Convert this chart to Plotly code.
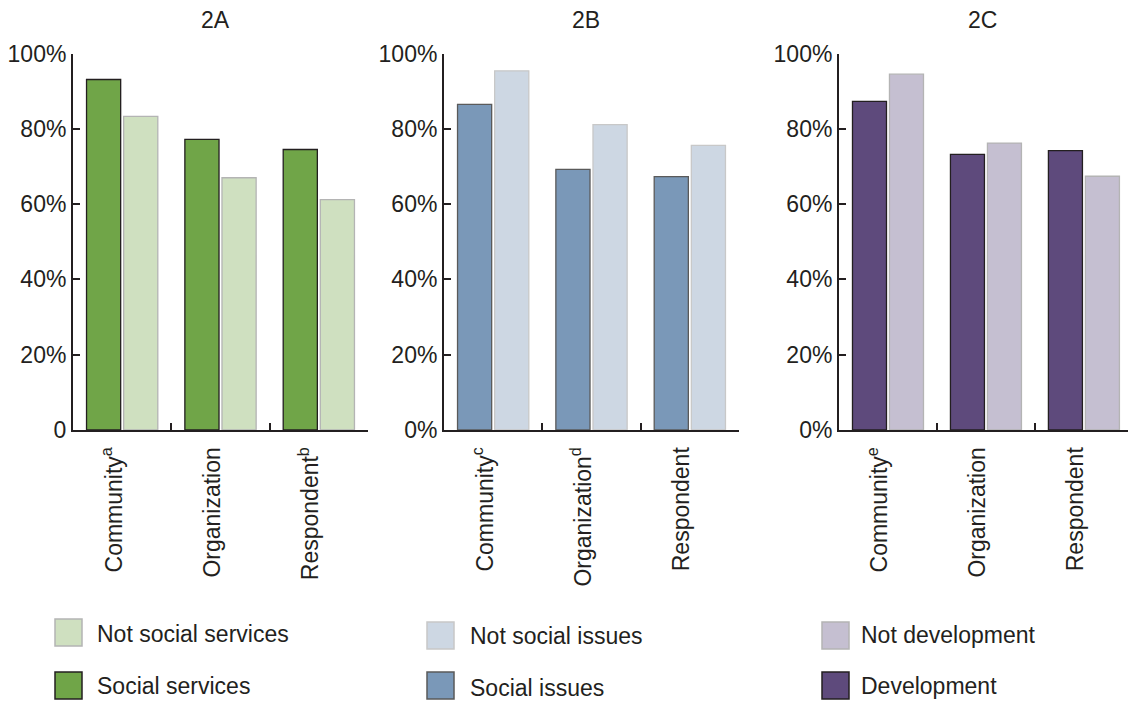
import plotly.graph_objects as go

# ---------------- data ----------------
categories_A = ["Community<sup>a</sup>", "Organization", "Respondent<sup>b</sup>"]
categories_B = ["Community<sup>c</sup>", "Organization<sup>d</sup>", "Respondent"]
categories_C = ["Community<sup>e</sup>", "Organization", "Respondent"]

social_services = [93.1, 77.2, 74.5]
not_social_services = [83.3, 67.0, 61.2]

social_issues = [86.5, 69.2, 67.3]
not_social_issues = [95.4, 81.1, 75.6]

development = [87.3, 73.2, 74.2]
not_development = [94.5, 76.2, 67.4]

panel_titles = ["2A", "2B", "2C"]
y_tickvals = [0, 20, 40, 60, 80, 100]
y_ticktext_A = ["0", "20%", "40%", "60%", "80%", "100%"]
y_ticktext_BC = ["0%", "20%", "40%", "60%", "80%", "100%"]

legend_A = ["Not social services", "Social services"]
legend_B = ["Not social issues", "Social issues"]
legend_C = ["Not development", "Development"]

# ---------------- style ----------------
W, H = 1128, 702
FONT = "Liberation Sans, Arial, sans-serif"
INK = "#231f20"

colors = {
    "A": ("#70a548", "#cfe0c0", INK, "#b4b4b4"),
    "B": ("#7a98b8", "#cdd7e3", "#5a5a5a", "#c8c8c8"),
    "C": ("#5e4a7c", "#c5bfd1", INK, "#b4b4b4"),
}

fig = go.Figure()

panels = [
    ("A", categories_A, social_services, not_social_services, legend_A, "x", "y", y_ticktext_A),
    ("B", categories_B, social_issues, not_social_issues, legend_B, "x2", "y2", y_ticktext_BC),
    ("C", categories_C, development, not_development, legend_C, "x3", "y3", y_ticktext_BC),
]

for key, cats, dark_vals, light_vals, leg, xa, ya, ytt in panels:
    dark, light, dark_line, light_line = colors[key]
    fig.add_trace(go.Bar(x=cats, y=dark_vals, name=leg[1], xaxis=xa, yaxis=ya,
                         marker=dict(color=dark, line=dict(color=dark_line, width=1.3)),
                         showlegend=False))
    fig.add_trace(go.Bar(x=cats, y=light_vals, name=leg[0], xaxis=xa, yaxis=ya,
                         marker=dict(color=light, line=dict(color=light_line, width=1.3)),
                         showlegend=False))

x_domains = [(73 / W, 368 / W), (444 / W, 739 / W), (839 / W, 1.0)]
x_ranges = [[-0.5, 2.5], [-0.5, 2.5], [-0.5, 2.45]]
y_domain = (1 - 430 / H, 1 - 53.5 / H)

common_x = dict(showline=True, linecolor=INK, linewidth=2, ticks="inside", ticklen=7,
                tickwidth=2, tickcolor=INK, tickson="boundaries", tickangle=-90,
                showgrid=False, zeroline=False, fixedrange=True, automargin=False,
                tickfont=dict(family=FONT, size=23, color=INK),
                ticklabelstandoff=6, ticklabelshift=-8)
common_y = dict(showline=True, linecolor=INK, linewidth=2, ticks="inside", ticklen=7,
                tickwidth=2, tickcolor=INK, range=[0, 100], tickvals=y_tickvals,
                showgrid=False, zeroline=False, fixedrange=True, automargin=False,
                tickfont=dict(family=FONT, size=23, color=INK))

layout_axes = {}
for i in range(3):
    ytt = panels[i][7]
    sx = "" if i == 0 else str(i + 1)
    layout_axes["xaxis" + sx] = dict(common_x, domain=list(x_domains[i]), range=x_ranges[i],
                                     anchor="y" + sx)
    layout_axes["yaxis" + sx] = dict(common_y, domain=list(y_domain), ticktext=ytt,
                                     anchor="x" + sx)

fig.update_layout(
    template="none",
    width=W, height=H,
    margin=dict(l=0, r=0, t=0, b=0, pad=0),
    paper_bgcolor="white", plot_bgcolor="white",
    barmode="group", bargap=0.245, bargroupgap=0.08,
    font=dict(family=FONT, color=INK),
    showlegend=False,
    **layout_axes,
)

# panel titles
title_x = [215, 586, 982]
for t, xc in zip(panel_titles, title_x):
    fig.add_annotation(text=t, x=xc / W, y=1 - 19.5 / H, xref="paper", yref="paper",
                       showarrow=False, xanchor="center", yanchor="middle",
                       font=dict(family=FONT, size=23, color=INK))

# legends (swatch + label), drawn as layout decorations
legend_specs = [
    ("A", legend_A, 55, 95, [(619, 646, 634), (672, 699, 686)]),
    ("B", legend_B, 427, 468, [(622, 649, 636), (672, 699, 688)]),
    ("C", legend_C, 822, 859, [(622, 649, 635), (672, 699, 686)]),
]
for key, labels, sx0, tx, rows in legend_specs:
    dark, light, dark_line, light_line = colors[key]
    fills = [(light, light_line), (dark, dark_line)]
    for (y0, y1, ty), lab, (fc, lc) in zip(rows, labels, fills):
        fig.add_shape(type="rect", xref="paper", yref="paper",
                      x0=sx0 / W, x1=(sx0 + 27) / W, y0=1 - y1 / H, y1=1 - y0 / H,
                      fillcolor=fc, line=dict(color=lc, width=1.5))
        fig.add_annotation(text=lab, x=tx / W, y=1 - ty / H, xref="paper", yref="paper",
                           showarrow=False, xanchor="left", yanchor="middle",
                           font=dict(family=FONT, size=23, color=INK))

fig.write_html("out.html")
